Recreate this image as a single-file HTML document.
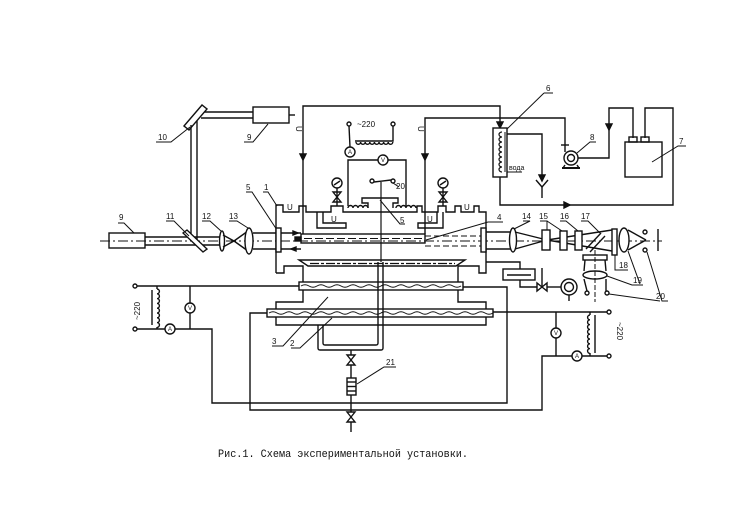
<!DOCTYPE html>
<html><head><meta charset="utf-8"><style>
html,body{margin:0;padding:0;background:#fff;}
svg{display:block}
text{font-family:"Liberation Sans",sans-serif;fill:#111;stroke:none}
</style></head><body>
<svg width="750" height="518" viewBox="0 0 750 518" xmlns="http://www.w3.org/2000/svg">
<rect width="750" height="518" fill="#fff"/>
<g fill="none" stroke="#111" stroke-width="1.4" stroke-linejoin="miter">

<!-- top laser 9 and mirror 10 -->
<rect x="253" y="107" width="36" height="16"/>
<line x1="289" y1="115" x2="295" y2="115"/>
<line x1="199" y1="112" x2="253" y2="112"/>
<line x1="201" y1="118" x2="253" y2="118"/>
<polygon points="184,126 202,105 207,109 189,130" fill="#fff"/>
<line x1="191" y1="125" x2="191" y2="237"/>
<line x1="197" y1="121" x2="197" y2="240"/>
<polyline points="156,142 171,142 190,127" stroke-width="1"/>
<polyline points="244,142 253,142 268,124" stroke-width="1"/>

<!-- left laser 9 -->
<rect x="109" y="233" width="36" height="15"/>
<line x1="100" y1="241" x2="662" y2="241" stroke-width="1" stroke-dasharray="10 3 2 3"/>
<line x1="145" y1="237" x2="220" y2="237"/>
<line x1="145" y1="245" x2="220" y2="245"/>
<polygon points="183,233 187,230 207,249 203,252" fill="#fff"/>
<ellipse cx="222" cy="241" rx="2.5" ry="10" fill="#fff"/>
<line x1="223" y1="235" x2="234" y2="241"/>
<line x1="223" y1="247" x2="234" y2="241"/>
<line x1="234" y1="241" x2="248" y2="231"/>
<line x1="234" y1="241" x2="248" y2="251"/>
<ellipse cx="249" cy="241" rx="4" ry="13" fill="#fff"/>
<line x1="253" y1="233" x2="276" y2="233"/>
<line x1="253" y1="249" x2="276" y2="249"/>
<polyline points="118,223 124,223 134,233" stroke-width="1"/>
<polyline points="166,221 174,221 189,236" stroke-width="1"/>
<polyline points="202,221 210,221 221,231" stroke-width="1"/>
<polyline points="229,221 237,221 248,228" stroke-width="1"/>
<polyline points="246,192 252,192 277,230" stroke-width="1"/>
<polyline points="263,192 268,192 277,206" stroke-width="1"/>

<!-- chamber upper -->
<path d="M276,273 V205 H283 V212 H299 V206 H306 V212 H331 V206 H343 V212 H417 V206 H422 V212 H438 V206 H446 V212 H455 V206 H461 V212 H474 V206 H479 V212 H486 V273 H479 V266 H458 V282"/>
<path d="M276,273 H284 V266 H303 V282"/>
<path d="M317,212 V228 H346 V223 H323 V212"/>
<path d="M443,212 V228 H418 V223 H437 V212"/>
<rect x="276" y="228" width="5" height="24" fill="#fff"/>
<rect x="481" y="228" width="5" height="24" fill="#fff"/>
<rect x="301" y="234" width="124" height="9"/>
<line x1="304" y1="238.5" x2="422" y2="238.5" stroke-width="1" stroke-dasharray="8 3"/>
<line x1="281" y1="233" x2="301" y2="233"/>
<line x1="281" y1="249" x2="301" y2="249"/>
<polygon points="293,231 298,233 293,235" fill="#111"/>
<polygon points="296,247 291,249 296,251" fill="#111"/>
<rect x="295" y="237" width="6" height="4" fill="#111"/>
<line x1="425" y1="236" x2="481" y2="236" stroke-width="1" stroke-dasharray="6 3"/>
<line x1="425" y1="246" x2="481" y2="246" stroke-width="1" stroke-dasharray="6 3"/>
<polyline points="426,240 488,222 503,222" stroke-width="1"/>

<!-- frame lines -->
<polyline points="303,234 303,106 500,106 500,127"/>
<polygon points="497,122 500,128 503,122" fill="#111"/>
<polyline points="425,234 425,118 565,118 565,145"/>
<polygon points="300,154 303,160 306,154" fill="#111"/>
<polygon points="422,154 425,160 428,154" fill="#111"/>

<!-- transformer top -->
<circle cx="349" cy="124" r="2"/>
<circle cx="393" cy="124" r="2"/>
<line x1="349" y1="126" x2="350" y2="147"/>
<circle cx="350" cy="152" r="5"/>
<polyline points="393,126 393,141 355,141"/>
<path d="M356,142 a2.3,2.3 0 0 0 4.6,0 a2.3,2.3 0 0 0 4.6,0 a2.3,2.3 0 0 0 4.6,0 a2.3,2.3 0 0 0 4.6,0 a2.3,2.3 0 0 0 4.6,0 a2.3,2.3 0 0 0 4.6,0 a2.3,2.3 0 0 0 4.6,0 a2.3,2.3 0 0 0 4.6,0"/>
<polyline points="348,206 348,160 378,160"/>
<circle cx="383" cy="160" r="5"/>
<polyline points="388,160 406,160 406,206"/>
<path d="M348,208 a2.5,2.5 0 0 1 5,0 a2.5,2.5 0 0 1 5,0 a2.5,2.5 0 0 1 5,0 a2.5,2.5 0 0 1 5,0"/>
<path d="M396,208 a2.5,2.5 0 0 1 5,0 a2.5,2.5 0 0 1 5,0 a2.5,2.5 0 0 1 5,0 a2.5,2.5 0 0 1 5,0"/>
<polyline points="368,208 368,203 362,203 362,198 398,198 398,203 393,203 393,208"/>
<circle cx="372" cy="181" r="2"/>
<circle cx="393" cy="181" r="2"/>
<line x1="374" y1="182" x2="391" y2="180"/>
<line x1="381" y1="182" x2="381" y2="262" stroke-width="1.2"/>
<polyline points="393,183 399,187" stroke-width="1"/>
<polyline points="380,200 400,224 405,224" stroke-width="1"/>

<!-- gauges -->
<circle cx="337" cy="183" r="5"/>
<path d="M334,185 L340,181"/>
<polygon points="333,192 341,192 337,197 333,202 341,202 337,197" fill="#fff"/>
<line x1="337" y1="188" x2="337" y2="206"/>
<circle cx="443" cy="183" r="5"/>
<path d="M440,185 L446,181"/>
<polygon points="439,192 447,192 443,197 439,202 447,202 443,197" fill="#fff"/>
<line x1="443" y1="188" x2="443" y2="206"/>

<!-- dish and heaters -->
<polygon points="299,260 465,260 456,266 308,266"/>
<line x1="310" y1="263.5" x2="455" y2="263.5" stroke-width="1.2" stroke-dasharray="9 2 3 2"/>
<rect x="299" y="282" width="164" height="8"/>
<path d="M301,286 q4,-2.5 8,0 t8,0 t8,0 t8,0 t8,0 t8,0 t8,0 t8,0 t8,0 t8,0 t8,0 t8,0 t8,0 t8,0 t8,0 t8,0 t8,0 t8,0 t8,0 t8,0" stroke-width="1"/>
<polyline points="303,290 303,302 276,302 276,309"/>
<polyline points="458,290 458,302 486,302 486,309"/>
<rect x="267" y="309" width="226" height="8"/>
<path d="M269,313 q4,-2.5 8,0 t8,0 t8,0 t8,0 t8,0 t8,0 t8,0 t8,0 t8,0 t8,0 t8,0 t8,0 t8,0 t8,0 t8,0 t8,0 t8,0 t8,0 t8,0 t8,0 t8,0 t8,0 t8,0 t8,0 t8,0 t8,0 t8,0 t8,0" stroke-width="1"/>
<polyline points="276,317 276,325 486,325 486,317"/>
<path d="M378,262 V343 Q378,345 376,345 H325 Q323,345 323,343 V325"/>
<path d="M383,262 V348 Q383,350 381,350 H320 Q318,350 318,348 V325"/>
<polyline points="272,346 283,346 328,297" stroke-width="1"/>
<polyline points="291,348 300,348 332,318" stroke-width="1"/>

<!-- drain -->
<line x1="351" y1="350" x2="351" y2="432"/>
<polygon points="347,355 355,355 351,360 347,365 355,365 351,360" fill="#fff"/>
<rect x="347" y="378" width="9" height="17" fill="#fff"/>
<line x1="347" y1="382" x2="356" y2="382"/>
<line x1="347" y1="386.5" x2="356" y2="386.5"/>
<line x1="347" y1="391" x2="356" y2="391"/>
<polygon points="347,412 355,412 351,417 347,422 355,422 351,417" fill="#fff"/>
<polyline points="357,384 384,367 396,367" stroke-width="1"/>

<!-- left power circuit -->
<circle cx="135" cy="286" r="2"/>
<circle cx="135" cy="329" r="2"/>
<line x1="137" y1="286" x2="299" y2="286"/>
<line x1="152" y1="290" x2="152" y2="325"/>
<line x1="157" y1="286" x2="157" y2="289"/>
<path d="M157,289 a2.4,2.4 0 0 1 0,4.8 a2.4,2.4 0 0 1 0,4.8 a2.4,2.4 0 0 1 0,4.8 a2.4,2.4 0 0 1 0,4.8 a2.4,2.4 0 0 1 0,4.8 a2.4,2.4 0 0 1 0,4.8 a2.4,2.4 0 0 1 0,4.8 a2.4,2.4 0 0 1 0,4.8"/>
<line x1="157" y1="327" x2="157" y2="329"/>
<line x1="190" y1="286" x2="190" y2="303"/>
<circle cx="190" cy="308" r="5"/>
<line x1="190" y1="313" x2="190" y2="329"/>
<line x1="137" y1="329" x2="165" y2="329"/>
<circle cx="170" cy="329" r="5"/>
<polyline points="175,329 212,329 212,403 507,403 507,287 463,287"/>
<polyline points="267,313 250,313 250,410 542,410 542,356 572,356"/>

<!-- right power circuit -->
<line x1="493" y1="312" x2="607" y2="312"/>
<line x1="556" y1="312" x2="556" y2="328"/>
<circle cx="556" cy="333" r="5"/>
<line x1="556" y1="338" x2="556" y2="356"/>
<circle cx="577" cy="356" r="5"/>
<line x1="582" y1="356" x2="607" y2="356"/>
<circle cx="609" cy="312" r="2"/>
<circle cx="609" cy="356" r="2"/>
<line x1="590" y1="312" x2="590" y2="315"/>
<path d="M590,315 a2.4,2.4 0 0 0 0,4.8 a2.4,2.4 0 0 0 0,4.8 a2.4,2.4 0 0 0 0,4.8 a2.4,2.4 0 0 0 0,4.8 a2.4,2.4 0 0 0 0,4.8 a2.4,2.4 0 0 0 0,4.8 a2.4,2.4 0 0 0 0,4.8 a2.4,2.4 0 0 0 0,4.8"/>
<line x1="590" y1="353" x2="590" y2="356"/>
<line x1="595" y1="315" x2="595" y2="353"/>

<!-- lower right devices -->
<polyline points="486,262 520,262 520,269"/>
<rect x="503" y="269" width="32" height="11"/>
<line x1="507" y1="275" x2="531" y2="275"/>
<polyline points="520,280 520,287 537,287"/>
<polygon points="537,283 537,291 542,287 547,283 547,291 542,287" fill="#fff"/>
<line x1="542" y1="287" x2="542" y2="268"/>
<line x1="547" y1="287" x2="561" y2="287"/>
<circle cx="569" cy="287" r="8"/>
<circle cx="569" cy="287" r="4.5"/>
<line x1="569" y1="295" x2="569" y2="301"/>

<!-- right optics -->
<line x1="486" y1="232" x2="511" y2="232"/>
<line x1="486" y1="249" x2="511" y2="249"/>
<ellipse cx="513" cy="240" rx="3.5" ry="12" fill="#fff"/>
<line x1="515" y1="232" x2="547" y2="240"/>
<line x1="515" y1="249" x2="547" y2="240"/>
<line x1="547" y1="240" x2="612" y2="230"/>
<line x1="547" y1="240" x2="612" y2="251"/>
<rect x="542" y="230" width="8" height="20" fill="#fff"/>
<rect x="560" y="231" width="7" height="19" fill="#fff"/>
<rect x="575" y="231" width="7" height="19" fill="#fff"/>
<line x1="586" y1="249" x2="601" y2="233"/>
<line x1="590" y1="252" x2="605" y2="236"/>
<rect x="612" y="229" width="5" height="26" fill="#fff"/>
<ellipse cx="624" cy="240" rx="5" ry="12" fill="#fff"/>
<line x1="628" y1="230" x2="646" y2="240"/>
<line x1="628" y1="250" x2="646" y2="240"/>
<circle cx="645" cy="232" r="2"/>
<circle cx="645" cy="250" r="2"/>
<line x1="658" y1="229" x2="658" y2="251"/>
<line x1="595" y1="250" x2="595" y2="302" stroke-width="1" stroke-dasharray="5 2"/>
<rect x="583" y="255" width="24" height="5"/>
<line x1="585" y1="260" x2="584" y2="271"/>
<line x1="605" y1="260" x2="606" y2="271"/>
<ellipse cx="595" cy="275" rx="12" ry="4"/>
<line x1="584" y1="279" x2="587" y2="291"/>
<line x1="606" y1="279" x2="606" y2="291"/>
<circle cx="587" cy="293" r="2"/>
<circle cx="607" cy="293" r="2"/>
<polyline points="523,221 530,221 514,229" stroke-width="1"/>
<polyline points="540,221 547,221 547,230" stroke-width="1"/>
<polyline points="547,221 562,231" stroke-width="1"/>
<polyline points="560,221 566,221 578,231" stroke-width="1"/>
<polyline points="581,221 588,221 600,233" stroke-width="1"/>
<polyline points="615,255 615,270 628,270" stroke-width="1"/>
<polyline points="628,251 640,284" stroke-width="1"/>
<polyline points="607,276 632,285 643,285" stroke-width="1"/>
<polyline points="647,252 662,301 668,301" stroke-width="1"/>
<polyline points="609,294 660,301" stroke-width="1"/>

<!-- heat exchanger, pump, tank -->
<rect x="493" y="128" width="14" height="49" fill="#fff"/>
<path d="M502,132 a3,2.5 0 0 0 0,5 a3,2.5 0 0 0 0,5 a3,2.5 0 0 0 0,5 a3,2.5 0 0 0 0,5 a3,2.5 0 0 0 0,5 a3,2.5 0 0 0 0,5 a3,2.5 0 0 0 0,5 a3,2.5 0 0 0 0,5" stroke-width="1.2"/>
<line x1="505" y1="132" x2="505" y2="172" stroke-width="1"/>
<polyline points="507,134 542,134 542,180"/>
<polygon points="539,175 542,181 545,175" fill="#111"/>
<line x1="542" y1="186" x2="542" y2="198"/>
<polyline points="536,180 542,187 548,180"/>
<line x1="507" y1="172" x2="522" y2="172" stroke-width="1"/>
<polyline points="500,177 500,205 673,205 673,108 645,108 645,138"/>
<polygon points="564,202 570,205 564,208" fill="#111"/>
<circle cx="571" cy="158" r="7"/>
<circle cx="571" cy="158" r="3.5"/>
<polyline points="562,168 580,168" stroke-width="2"/>
<line x1="565" y1="165" x2="563" y2="168"/>
<line x1="577" y1="165" x2="579" y2="168"/>
<line x1="565" y1="145" x2="565" y2="152"/>
<line x1="561" y1="145" x2="569" y2="145"/>
<polyline points="578,158 609,158 609,108 633,108 633,138"/>
<polygon points="606,124 609,130 612,124" fill="#111"/>
<rect x="625" y="142" width="37" height="35"/>
<rect x="629" y="137" width="8" height="5"/>
<rect x="641" y="137" width="8" height="5"/>
<polyline points="544,93 553,93" stroke-width="1"/>
<line x1="544" y1="93" x2="507" y2="129" stroke-width="1"/>
<polyline points="577,153 590,142 596,142" stroke-width="1"/>
<polyline points="652,162 678,146 686,146" stroke-width="1"/>
</g>

<!-- meter letters -->
<g font-size="6" text-anchor="middle">
<text x="350" y="154">A</text>
<text x="383" y="162">V</text>
<text x="190" y="310">V</text>
<text x="170" y="331">A</text>
<text x="556" y="335">V</text>
<text x="577" y="358">A</text>
</g>

<!-- text labels -->
<g font-size="8">
<text x="158" y="140">10</text>
<text x="247" y="140">9</text>
<text x="119" y="220">9</text>
<text x="166" y="219">11</text>
<text x="202" y="219">12</text>
<text x="229" y="219">13</text>
<text x="246" y="190">5</text>
<text x="264" y="190">1</text>
<text x="357" y="127">~220</text>
<text x="396" y="189">20</text>
<text x="400" y="223">5</text>
<text x="497" y="220">4</text>
<text x="546" y="91">6</text>
<text x="590" y="140">8</text>
<text x="679" y="144">7</text>
<text x="509" y="170" font-size="7">вода</text>
<text x="522" y="219">14</text>
<text x="539" y="219">15</text>
<text x="560" y="219">16</text>
<text x="581" y="219">17</text>
<text x="619" y="268">18</text>
<text x="633" y="283">19</text>
<text x="656" y="299">20</text>
<text x="272" y="344">3</text>
<text x="290" y="346">2</text>
<text x="386" y="365">21</text>
<text x="287" y="210">U</text>
<text x="331" y="222">U</text>
<text x="427" y="222">U</text>
<text x="464" y="210">U</text>
<text transform="translate(296,126) rotate(90)">U</text>
<text transform="translate(418,126) rotate(90)">U</text>
<text transform="translate(140,320) rotate(-90)">~220</text>
<text transform="translate(617,322) rotate(90)">~220</text>
</g>
<text x="218" y="457" font-size="11" textLength="250" lengthAdjust="spacingAndGlyphs" style="font-family:'Liberation Mono',monospace">Рис.1. Схема экспериментальной установки.</text>
</svg>
</body></html>
